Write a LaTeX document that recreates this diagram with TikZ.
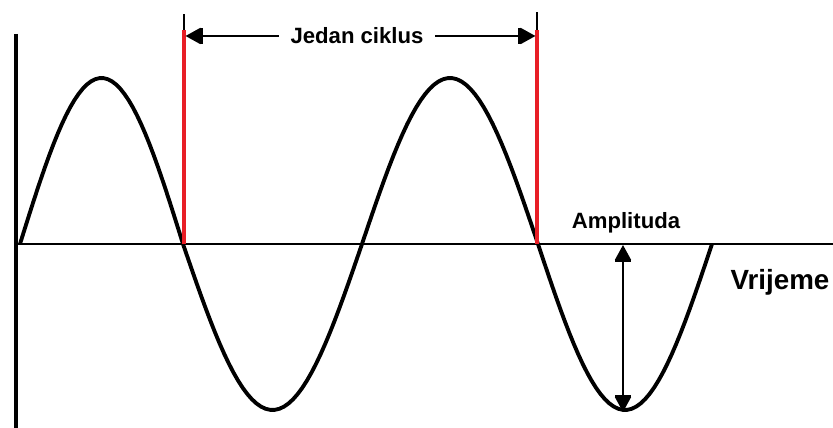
\documentclass[tikz,border=0pt]{standalone}
\usepackage{fontspec}
\setmainfont{Liberation Sans}
\usetikzlibrary{positioning,arrows.meta}
\definecolor{cyclered}{RGB}{232,30,38}

\begin{document}
\begin{tikzpicture}[
  x=0.02cm, y=-0.02cm,
  font=\bfseries,
  axis/.style={line width=1.4pt},
  yaxis/.style={line width=2.8pt},
  wave/.style={line width=2.2pt, line join=round},
  marker/.style={cyclered, line width=2.6pt},
  tickline/.style={line width=1pt},
  tip/.style={-{Bar[width=9pt,line width=1.4pt]Triangle[length=8.5pt,width=9pt]}},
  arr/.style={tip, line width=1.4pt},
  dimarr/.style={{Triangle[length=8.5pt,width=9pt]Bar[width=9pt,line width=1.4pt]}-{Bar[width=9pt,line width=1.4pt]Triangle[length=8.5pt,width=9pt]}, line width=1.1pt},
  lbl/.style={inner sep=0pt, font=\bfseries\fontsize{12.6}{14}\selectfont}]
\useasboundingbox (0,0) rectangle (833,428);
% axes
\coordinate (origin) at (16,244);
\coordinate (ytop) at (16,34);
\coordinate (ybot) at (16,428);
\coordinate (xend) at (833,244);
\draw[yaxis] (ytop) -- (ybot);
\draw[axis] (origin) -- (xend);
% the wave, one half period at a time
\draw[wave] plot[domain=20:183, samples=40] (\x, {244-166*sin((\x-20)/163*180)})
  -- plot[domain=183:362, samples=40] (\x, {244+166*sin((\x-183)/179*180)})
  -- plot[domain=362:538, samples=40] (\x, {244-166*sin((\x-362)/176*180)})
  -- plot[domain=538:712, samples=40] (\x, {244+166*sin((\x-538)/174*180)});
% one cycle
\coordinate (c1zero) at (184,244);
\coordinate (c1mark) at (184,30);
\coordinate (c1top) at (184,14);
\coordinate (c2zero) at (537,244);
\coordinate (c2mark) at (537,30);
\coordinate (c2top) at (537,12);
\draw[marker] (c1zero) -- (c1mark);
\draw[marker] (c2zero) -- (c2mark);
\draw[tickline] (c1mark) -- (c1top);
\draw[tickline] (c2mark) -- (c2top);
\node[lbl, inner xsep=6.5pt] (cycle) at (357,36) {Jedan ciklus};
\coordinate (c1end) at (185.5,36);
\coordinate (c2end) at (535.5,36);
\draw[arr] (cycle.west) -- (c1end);
\draw[arr] (cycle.east) -- (c2end);
% amplitude
\node[lbl] (amp) at (626,223) {Amplituda};
\coordinate (ampzero) at (623,245);
\coordinate (amplow) at (623,412);
\draw[dimarr] (ampzero) -- (amplow);
\node[lbl, font=\bfseries\fontsize{15.8}{18}\selectfont] (time) at (780,282) {Vrijeme};
\end{tikzpicture}
\end{document}
